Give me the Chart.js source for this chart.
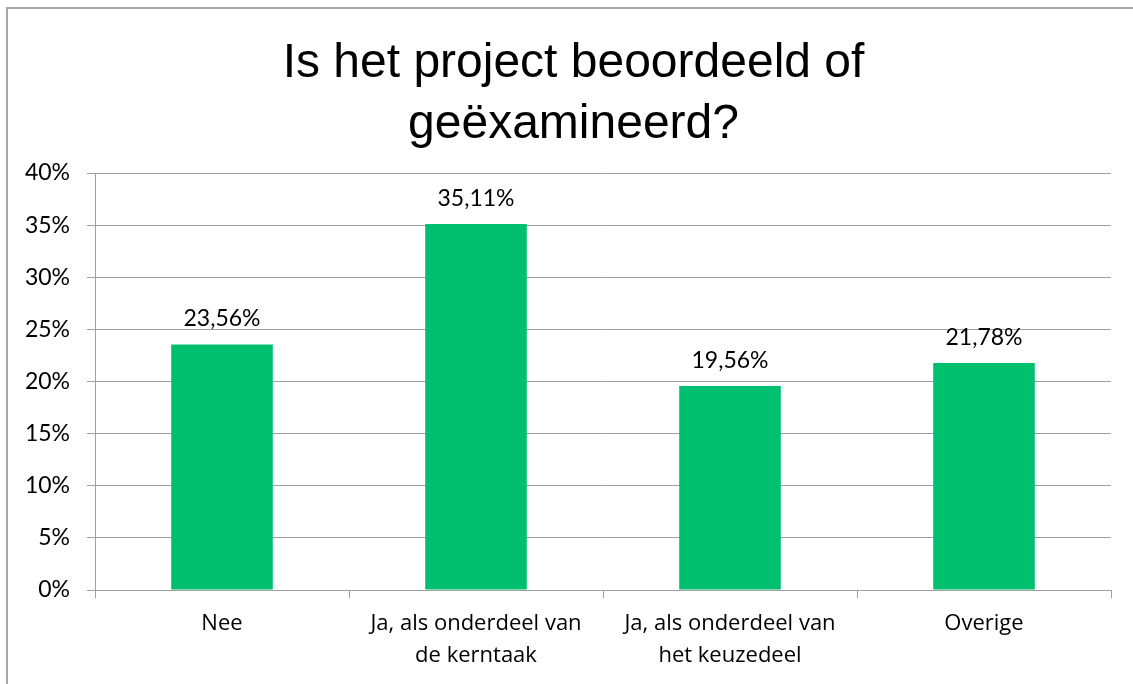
<!DOCTYPE html>
<html>
<head>
<meta charset="utf-8">
<script src="https://cdn.jsdelivr.net/npm/chart.js@4"></script>
<style>
  body { margin: 0; background: #fff; }
  #wrap { position: relative; width: 1133px; height: 684px; overflow: hidden; }
  #frame { position: absolute; left: 6px; top: 7px; width: 1200px; height: 800px;
           border-left: 2px solid #a6a6a6; border-top: 2px solid #a6a6a6; }
  canvas { position: absolute; left: 0; top: 0; }
</style>
</head>
<body>
<div id="wrap">
  <div id="frame"></div>
  <canvas id="bar_chart" width="1133" height="684"></canvas>
</div>
<script>
'use strict';
var categories = [
    ['Nee'],
    ['Ja, als onderdeel van', 'de kerntaak'],
    ['Ja, als onderdeel van', 'het keuzedeel'],
    ['Overige']
];
var values = [23.56, 35.11, 19.56, 21.78];
var yTicks = [0, 5, 10, 15, 20, 25, 30, 35, 40];
var titleLines = ['Is het project beoordeeld of', 'geëxamineerd?'];

var gridColor = '#a0a0a0';
var numFont = 'Lato, "Open Sans", sans-serif';
var labelFont = '"Open Sans", Lato, sans-serif';

// labels above bars, e.g. 23,56%
var valueLabels = {
    id: 'valueLabels',
    afterLayout: function(chart) {
        // title in the original is centred on the frame, a bit right of the canvas centre
        var t = chart.titleBlock;
        if (t) { t.left += 14; t.right += 14; }
    },
    afterDatasetsDraw: function(chart) {
        var ctx = chart.ctx;
        var meta = chart.getDatasetMeta(0);
        ctx.save();
        ctx.font = '23px ' + numFont;
        ctx.fillStyle = '#000';
        ctx.textAlign = 'center';
        ctx.textBaseline = 'alphabetic';
        meta.data.forEach(function(bar, i) {
            var txt = values[i].toFixed(2).replace('.', ',') + '%';
            ctx.fillText(txt, bar.x, bar.y - 18);
        });
        ctx.restore();
    }
};

new Chart(document.getElementById('bar_chart').getContext('2d'), {
    type: 'bar',
    data: {
        labels: categories,
        datasets: [{
            data: values,
            backgroundColor: '#00c070',
            borderWidth: 0,
            barPercentage: 0.8,
            categoryPercentage: 0.5
        }]
    },
    options: {
        responsive: false,
        animation: false,
        layout: { padding: { left: 8, top: 8, right: 22, bottom: 0 } },
        plugins: {
            legend: { display: false },
            tooltip: { enabled: false },
            title: {
                display: true,
                text: titleLines,
                color: '#000',
                font: { family: '"Liberation Sans", Arial, sans-serif', size: 48, weight: 'normal', lineHeight: '61px' },
                padding: { top: 25, bottom: 18 }
            }
        },
        scales: {
            x: {
                grid: { drawOnChartArea: false, drawTicks: true, tickLength: 8, color: gridColor, offset: true },
                border: { display: true, color: gridColor },
                ticks: { color: '#000', font: { family: labelFont, size: 22, lineHeight: '32px' }, padding: 10, maxRotation: 0, autoSkip: false },
                afterFit: function(scale) { scale.height = 94; }
            },
            y: {
                min: 0,
                max: 40,
                afterBuildTicks: function(scale) {
                    scale.ticks = yTicks.map(function(v) { return { value: v }; });
                },
                grid: { color: gridColor, tickLength: 8 },
                border: { display: true, color: gridColor },
                ticks: {
                    color: '#000',
                    font: { family: numFont, size: 23 },
                    padding: 17,
                    callback: function(v) { return v + '%'; }
                },
                afterFit: function(scale) { scale.width = 87; }
            }
        }
    },
    plugins: [valueLabels]
});
</script>
</body>
</html>
